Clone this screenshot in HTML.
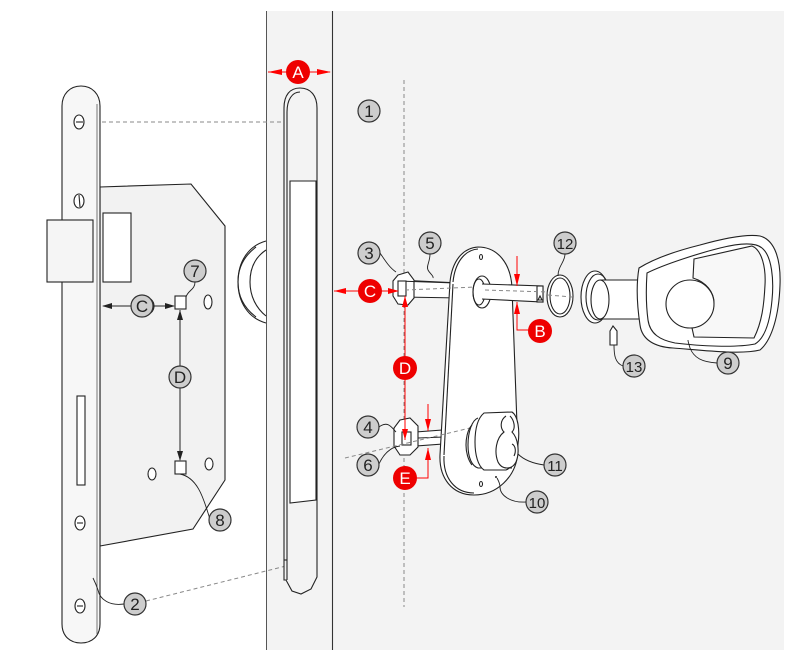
<!DOCTYPE html>
<html><head><meta charset="utf-8"><style>
html,body{margin:0;padding:0;background:#fff;}
svg{display:block;}
.k{fill:none;stroke:#222;stroke-width:1.1;}
.w{fill:#fff;stroke:#222;stroke-width:1.1;}
.lg{fill:#f5f5f5;stroke:#222;stroke-width:1.1;}
.d{fill:none;stroke:#888;stroke-width:1;stroke-dasharray:4 3;}
.r{fill:none;stroke:#ff0000;stroke-width:1;}
.rf{fill:#ff0000;}
.lc{fill:#cdcdcd;stroke:#333;stroke-width:1.2;}
.lt{font-family:"Liberation Sans",sans-serif;font-size:17px;fill:#222;text-anchor:middle;}
.rc{fill:#ee0000;}
.rt{font-family:"Liberation Sans",sans-serif;font-size:17px;fill:#fff;text-anchor:middle;}
.ld{fill:none;stroke:#222;stroke-width:0.9;}
</style></head><body>
<svg width="800" height="660" viewBox="0 0 800 660" xmlns="http://www.w3.org/2000/svg">
<!-- door -->
<rect x="266" y="11" width="518" height="639" fill="#f3f3f3"/>
<line x1="266.5" y1="11" x2="266.5" y2="650" stroke="#555" stroke-width="1"/>
<line x1="332.5" y1="11" x2="332.5" y2="650" stroke="#333" stroke-width="1.1"/>
<!-- dashed center line -->
<line x1="404" y1="80" x2="404" y2="607" class="d"/>
<!-- dashed projection lines -->
<line x1="102" y1="122" x2="303" y2="122" class="d"/>
<line x1="146" y1="601" x2="306" y2="561" class="d"/>

<!-- knob behind door edge -->
<path d="M266 241 C248 246 238 262 238 282 C238 302 248 318 266 323" class="w"/>
<path d="M256 247 C244 256 238 268 238 282 C238 296 244 308 256 317" class="k"/>
<path d="M266 250 C254 258 250 270 250 282 C250 296 256 308 266 316" class="k"/>

<!-- door edge faceplate -->
<path d="M284 580 L284 108 C284 95 290 88 300 88 C311 88 317 96 317 108 L317 577 L311 589 L301 594 L292 591 L286 580 Z" fill="#f3f3f3" stroke="#222" stroke-width="1.1"/>
<path d="M287 580 L287 112 C287 100 292 92 300 92" class="k"/>
<path d="M284 560 L287 560" class="k"/>
<path d="M290 181 L316 181 L316 500 L290 503 Z" fill="#fff" stroke="#222" stroke-width="1.1"/>

<!-- lock case -->
<path d="M100 187 L191 184 L225 226 L225 480 L193 529 L100 546 Z" fill="#f2f2f2" stroke="#222" stroke-width="1.1"/>
<rect x="103" y="213" width="28" height="69" fill="#fff" stroke="#222" stroke-width="1.1"/>
<ellipse cx="208" cy="302" rx="4" ry="7" class="w"/>
<ellipse cx="152" cy="474" rx="4" ry="6" class="w"/>
<ellipse cx="209" cy="464" rx="4" ry="6" class="w"/>
<rect x="175" y="296" width="11" height="13" class="w"/>
<rect x="175" y="461" width="11" height="13" class="w"/>

<!-- lock faceplate -->
<path d="M62 106 C62 94 70 86 81 86 C92 86 100 94 100 106 L100 624 C100 636 92 643 81 643 C70 643 62 636 62 624 Z" fill="#f7f7f7" stroke="#222" stroke-width="1.1"/>
<line x1="97" y1="104" x2="97" y2="634" stroke="#555" stroke-width="0.8"/>
<ellipse cx="79" cy="122" rx="5" ry="7" class="w"/><line x1="76" y1="122" x2="83" y2="122" class="k"/>
<ellipse cx="79" cy="201" rx="5" ry="7" class="w"/><line x1="79" y1="195" x2="80" y2="207" class="k"/>
<ellipse cx="80" cy="523" rx="5" ry="7" class="w"/><line x1="77" y1="523" x2="83" y2="523" class="k"/>
<ellipse cx="80" cy="606" rx="5" ry="7" class="w"/><line x1="77" y1="606" x2="83" y2="606" class="k"/>
<rect x="77" y="396" width="8" height="89" class="w"/>
<!-- latch bolt -->
<rect x="47" y="220" width="46" height="62" fill="#f5f5f5" stroke="#222" stroke-width="1.1"/>

<!-- C / D dims on lock -->
<line x1="103" y1="306" x2="131" y2="306" stroke="#222" stroke-width="1"/>
<path d="M102 306 L112 303 L112 309 Z" fill="#222"/>
<line x1="153" y1="306" x2="174" y2="306" stroke="#222" stroke-width="1"/>
<path d="M175 306 L165 303 L165 309 Z" fill="#222"/>
<line x1="180" y1="310" x2="180" y2="460" stroke="#222" stroke-width="1"/>
<path d="M180 310 L177 320 L183 320 Z" fill="#222"/>
<path d="M180 461 L177 451 L183 451 Z" fill="#222"/>
<circle cx="145" cy="306" r="9" class="k"/>
<circle cx="142" cy="306" r="11" class="lc"/><text x="142" y="312" class="lt">C</text>
<circle cx="180" cy="377" r="11" class="lc"/><text x="180" y="383" class="lt">D</text>

<!-- spindle left part -->
<path d="M398 280 L460 283 L460 298 L402 297 Z" class="w"/>
<!-- nut 3 -->
<path d="M398 275 L408 272 L414 280 L414 298 L408 305 L398 304 L393 296 L393 281 Z" class="w"/>
<path d="M398 281 L455 283" class="k"/>
<rect x="398" y="281" width="8" height="15" class="w"/>

<!-- lower spindle -->
<path d="M402 433 L470 428 L470 442 L402 447 Z" class="w"/>
<path d="M400 420 L410 418 L418 426 L418 447 L410 455 L400 455 L394 446 L394 428 Z" class="w"/>
<rect x="402" y="432" width="9" height="13" class="w"/>
<line x1="418" y1="438" x2="470" y2="436" class="k"/>

<!-- escutcheon plate -->
<path d="M478 247 C462 248 452 262 450 282 L440 455 C439 478 452 495 474 495 C496 495 516 478 518 452 L512 288 C511 264 498 247 478 247 Z" fill="#fff" stroke="#222" stroke-width="1.1"/>
<path d="M453 282 C455 262 465 250 478 249" class="k"/>
<path d="M444 455 L453 284" class="k"/>
<path d="M444 456 C443 478 455 493 474 493" class="k"/>
<line x1="405" y1="290" x2="476" y2="287" class="d"/>
<line x1="345" y1="458" x2="470" y2="428" class="d"/>
<ellipse cx="482" cy="292" rx="9" ry="16" class="w"/>
<ellipse cx="479" cy="292" rx="6" ry="13" class="k"/>
<ellipse cx="481" cy="257" rx="1.5" ry="2.5" class="k"/>
<ellipse cx="481" cy="484" rx="1.5" ry="2.5" class="k"/>
<circle cx="496" cy="477" r="1" fill="#222"/>
<!-- spindle right part -->
<path d="M482 284 L543 286 L543 302 L482 299" fill="#fff" stroke="#222" stroke-width="1.1"/>
<rect x="537" y="286" width="6" height="16" class="w"/>
<path d="M538 300 L540 296 L542 300 Z" class="k"/>
<line x1="485" y1="290" x2="548" y2="292" class="d"/>

<!-- cylinder / thumbturn 11 -->
<path d="M478 418 C472 420 468 432 468 445 C468 458 472 466 478 468 L512 468" class="w"/>
<path d="M472 425 C467 430 466 440 466 445 C466 452 468 460 472 465" class="k"/>
<path d="M484 413 L512 412 C518 416 520 430 518 444 C516 458 512 468 506 470 L484 470 C478 466 475 455 475 442 C475 428 478 418 484 413 Z" class="w"/>
<path d="M506 416 C500 420 500 428 504 432 C496 438 494 452 498 462 C502 470 512 470 516 462 C520 452 518 438 512 432 C516 428 514 420 510 416" class="w"/>
<path d="M512 444 C516 446 516 452 514 456" class="k"/>

<!-- washer 12 -->
<ellipse cx="560" cy="296" rx="13" ry="21" class="w"/>
<ellipse cx="560" cy="296" rx="10" ry="18" class="k"/>
<line x1="548" y1="295" x2="572" y2="297" class="d"/>

<!-- handle 9 -->
<ellipse cx="595" cy="297" rx="14" ry="26" class="w"/>
<ellipse cx="598" cy="297" rx="12" ry="23" class="k"/>
<path d="M600 280 L642 280 L642 319 L600 319" fill="#fff" stroke="#222" stroke-width="1.1"/>
<ellipse cx="600" cy="299.5" rx="9" ry="19.5" class="w"/>
<path d="M639 268 C655 258 680 250 700 245 C725 238 748 234 760 236 C775 240 781 260 780 285 C779 315 772 340 760 350 C740 355 700 350 673 348 C655 347 642 340 640 325 C637 305 636 285 639 268 Z" class="w"/>
<path d="M647 273 C665 264 700 253 720 248 C740 243 755 242 762 248 C772 256 774 280 772 300 C770 322 765 338 755 344 C735 348 700 346 675 343 C660 340 650 334 648 320 C646 305 646 288 647 273 Z" class="k"/>
<path d="M694 259 L752 246 C762 250 766 268 765 285 C764 305 762 322 754 338 L694 337 L692 328 C706 322 714 312 714 303 C714 292 706 282 693 278 Z" fill="#f8f8f8" stroke="#222" stroke-width="1.1"/>
<circle cx="690" cy="304" r="24" class="w"/>
<!-- pin 13 -->
<path d="M610 331 L613 326 L617 331 L617 345 L610 345 Z" class="w"/>

<!-- leaders -->
<path d="M124 604 C110 606 100 600 98 590 C96 584 94 580 93 578" class="ld"/>
<path d="M380 253 C386 262 390 268 396 272" class="ld"/>
<path d="M430 254 C430 262 426 266 428 270 C430 274 434 276 433 278" class="ld"/>
<path d="M565 254 C565 262 558 266 558 276" class="ld"/>
<path d="M717 363 C702 362 694 358 690 348 C689 344 688 342 688 340" class="ld"/>
<path d="M623 366 C615 363 614 355 614 345" class="ld"/>
<path d="M544 465 C530 463 522 458 518 454" class="ld"/>
<path d="M526 502 C510 503 500 495 500 487 C500 483 498 480 497 478" class="ld"/>
<path d="M379 427 C388 420 392 428 396 432" class="ld"/>
<path d="M379 464 C383 455 390 447 400 446" class="ld"/>
<path d="M195 282 C195 290 188 290 186 297" class="ld"/>
<path d="M210 519 C205 505 200 478 180 474" class="ld"/>

<!-- red dimensions -->
<!-- A -->
<line x1="268" y1="72" x2="330" y2="72" class="r"/>
<path d="M268 72 L282 69 L282 75 Z" class="rf"/>
<path d="M331 72 L317 69 L317 75 Z" class="rf"/>
<circle cx="298" cy="72" r="12" class="rc"/><text x="298" y="78" class="rt">A</text>
<!-- C -->
<line x1="334" y1="291" x2="398" y2="291" class="r"/>
<path d="M334 291 L346 288 L346 294 Z" class="rf"/>
<path d="M399 291 L388 288 L388 294 Z" class="rf"/>
<circle cx="370" cy="291" r="12" class="rc"/><text x="370" y="297" class="rt">C</text>
<!-- D -->
<line x1="405" y1="296" x2="405" y2="440" class="r"/>
<path d="M405 296 L402 307 L408 307 Z" class="rf"/>
<path d="M405 440 L402 429 L408 429 Z" class="rf"/>
<circle cx="405" cy="368" r="12" class="rc"/><text x="405" y="374" class="rt">D</text>
<!-- B -->
<line x1="517" y1="256" x2="517" y2="286" class="r"/>
<path d="M517 286 L514 274 L520 274 Z" class="rf"/>
<path d="M517 302 L517 330 L530 330" class="r"/>
<path d="M517 302 L514 314 L520 314 Z" class="rf"/>
<circle cx="540" cy="331" r="12" class="rc"/><text x="540" y="337" class="rt">B</text>
<!-- E -->
<line x1="428" y1="404" x2="428" y2="431" class="r"/>
<path d="M428 431 L425 419 L428 419 L431 419 Z" class="rf"/>
<path d="M428 448 L428 478 L417 478" class="r"/>
<path d="M428 448 L425 460 L431 460 Z" class="rf"/>
<circle cx="405" cy="478" r="12" class="rc"/><text x="405" y="484" class="rt">E</text>

<!-- number labels -->
<circle cx="369" cy="111" r="11" class="lc"/><text x="369" y="117" class="lt">1</text>
<circle cx="135" cy="604" r="11" class="lc"/><text x="135" y="610" class="lt">2</text>
<circle cx="369" cy="253" r="11" class="lc"/><text x="369" y="259" class="lt">3</text>
<circle cx="368" cy="427" r="11" class="lc"/><text x="368" y="433" class="lt">4</text>
<circle cx="430" cy="243" r="11" class="lc"/><text x="430" y="249" class="lt">5</text>
<circle cx="368" cy="465" r="11" class="lc"/><text x="368" y="471" class="lt">6</text>
<circle cx="195" cy="271" r="11" class="lc"/><text x="195" y="277" class="lt">7</text>
<circle cx="220" cy="520" r="11" class="lc"/><text x="220" y="526" class="lt">8</text>
<circle cx="728" cy="363" r="11" class="lc"/><text x="728" y="369" class="lt">9</text>
<circle cx="537" cy="502" r="11" class="lc"/><text x="537" y="508" class="lt" style="font-size:15px">10</text>
<circle cx="555" cy="465" r="11" class="lc"/><text x="555" y="471" class="lt" style="font-size:15px">11</text>
<circle cx="565" cy="243" r="11" class="lc"/><text x="565" y="249" class="lt" style="font-size:15px">12</text>
<circle cx="634" cy="366" r="11" class="lc"/><text x="634" y="372" class="lt" style="font-size:15px">13</text>
</svg>
</body></html>
